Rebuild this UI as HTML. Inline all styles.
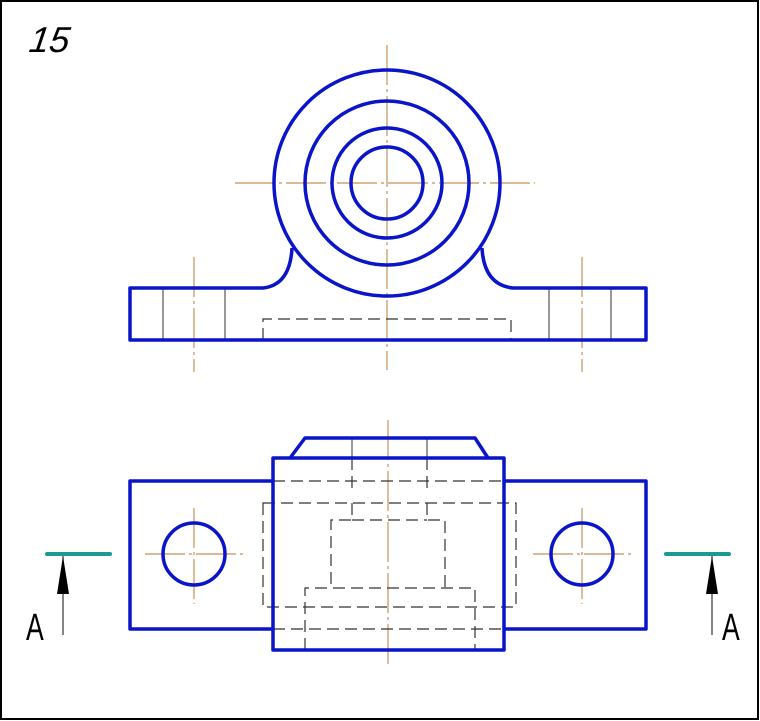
<!DOCTYPE html>
<html><head><style>body{margin:0;background:#fff}svg{display:block}</style></head><body>
<svg width="760" height="721" viewBox="0 0 760 721" xmlns="http://www.w3.org/2000/svg">
<rect x="1" y="1" width="757" height="718" fill="#fff" stroke="#000" stroke-width="2"/>
<text x="28" y="52" font-family="Liberation Sans, sans-serif" font-style="italic" font-size="36" fill="#000" transform="skewX(-8)" style="transform-origin:28px 52px">15</text>
<g stroke="#c8915a" stroke-width="1.2" fill="none" stroke-dasharray="40 4 3 4">
<line x1="387" y1="45" x2="387" y2="370"/>
<line x1="235" y1="183" x2="535" y2="183"/>
<line x1="194" y1="257" x2="194" y2="372"/>
<line x1="582" y1="257" x2="582" y2="372"/>
<line x1="388" y1="420" x2="388" y2="665"/>
<line x1="145" y1="554" x2="243" y2="554"/>
<line x1="194" y1="508" x2="194" y2="604"/>
<line x1="533" y1="554" x2="631" y2="554"/>
<line x1="582" y1="508" x2="582" y2="604"/>
</g>
<g stroke="#555" stroke-width="1.2" fill="none">
<line x1="163" y1="288" x2="163" y2="340"/><line x1="225" y1="288" x2="225" y2="340"/>
<line x1="549" y1="288" x2="549" y2="340"/><line x1="611" y1="288" x2="611" y2="340"/>
<line x1="352" y1="438" x2="352" y2="458"/><line x1="427" y1="438" x2="427" y2="458"/>
</g>
<g stroke="#333" stroke-width="1.2" fill="none" stroke-dasharray="12 6">
<path d="M263 340 V319 H511 V340"/>
<line x1="273" y1="481" x2="504" y2="481"/>
<line x1="352" y1="458" x2="352" y2="490"/><line x1="427" y1="458" x2="427" y2="490"/>
<rect x="263" y="503" width="253" height="104"/>
<path d="M352 503 V520 H331 V588"/><path d="M427 503 V520 H445 V588"/>
<line x1="352" y1="520" x2="427" y2="520"/>
<path d="M305 650 V588 H475 V650"/>
<line x1="273" y1="629" x2="504" y2="629"/>
</g>
<g stroke="#0a14c8" stroke-width="3.5" fill="none" stroke-linejoin="round">
<circle cx="387" cy="183" r="113"/>
<circle cx="387" cy="183" r="82"/>
<circle cx="387" cy="183" r="55"/>
<circle cx="387" cy="183" r="36"/>
<path d="M292 248 Q290 285 263 288 H130 V340 H646 V288 H513 Q484 285 482 248"/>
<rect x="273" y="458" width="231" height="192"/>
<path d="M290 458 L305 438 H475 L488 458"/>
<path d="M273 481 H130 V629 H273"/>
<path d="M504 481 H646 V629 H504"/>
<circle cx="194" cy="554" r="31"/>
<circle cx="582" cy="554" r="31"/>
</g>
<g stroke="#1a9a90" stroke-width="4" stroke-linecap="round">
<line x1="47" y1="554" x2="110" y2="554"/><line x1="666" y1="554" x2="729" y2="554"/>
</g>
<g stroke="#333" stroke-width="1.2">
<line x1="63" y1="556" x2="63" y2="635"/><line x1="712" y1="556" x2="712" y2="635"/>
</g>
<path d="M63 556 L57 594 L69 594 Z" fill="#000"/>
<path d="M712 556 L706 594 L718 594 Z" fill="#000"/>
<text x="26" y="640" font-family="Liberation Sans, sans-serif" font-size="38" fill="#000" transform="scale(0.7 1)" style="transform-origin:26px 640px">A</text>
<text x="722" y="640" font-family="Liberation Sans, sans-serif" font-size="38" fill="#000" transform="scale(0.7 1)" style="transform-origin:722px 640px">A</text>
</svg>
</body></html>
